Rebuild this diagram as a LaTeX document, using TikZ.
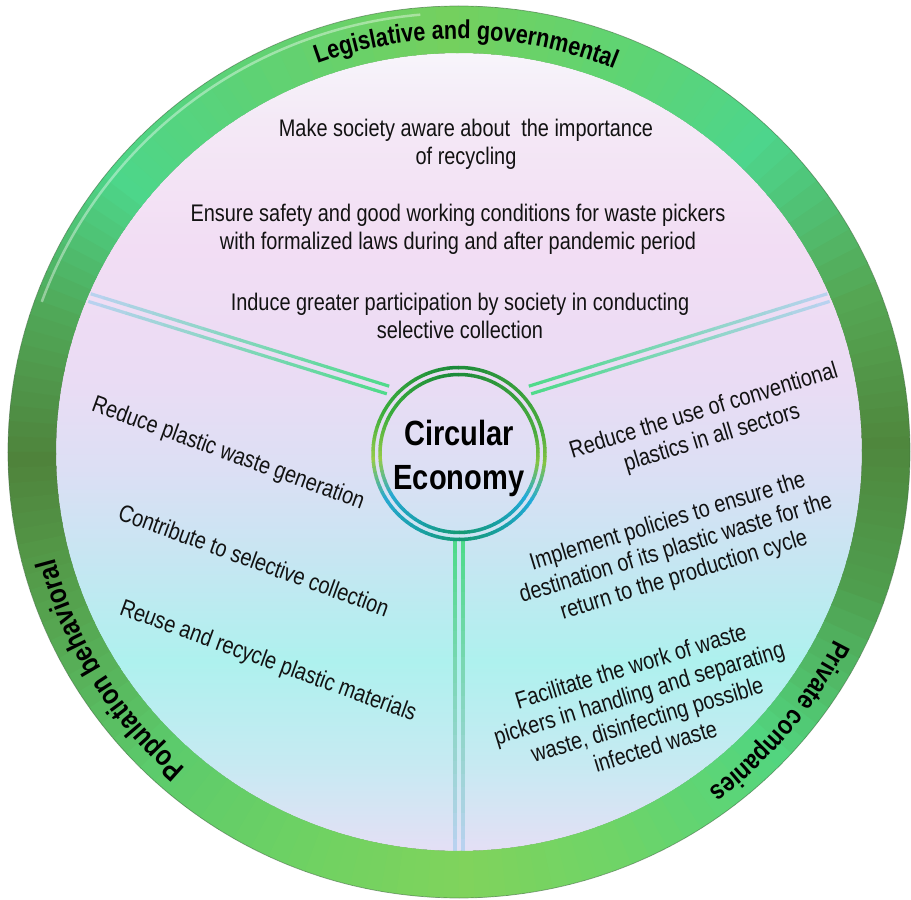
\documentclass[tikz,border=0pt]{standalone}
\usepackage{fontspec}
\setmainfont{Liberation Sans}[FakeStretch=0.83]
\usetikzlibrary{calc,decorations.text}

% outer ring, going round counter-clockwise from the right
\definecolor{rgA}{HTML}{4F873D}
\definecolor{rgB}{HTML}{55A653}
\definecolor{rgC}{HTML}{4DD58C}
\definecolor{rgD}{HTML}{5ED474}
\definecolor{rgE}{HTML}{74D05E}
\definecolor{rgF}{HTML}{5CD277}
\definecolor{rgG}{HTML}{4DD68A}
\definecolor{rgH}{HTML}{50A858}
\definecolor{rgI}{HTML}{4F833B}
\definecolor{rgJ}{HTML}{55A24E}
\definecolor{rgK}{HTML}{5CCB6C}
\definecolor{rgL}{HTML}{70D262}
\definecolor{rgM}{HTML}{80D35C}
\definecolor{rgN}{HTML}{6FD467}
\definecolor{rgO}{HTML}{52D57F}
\definecolor{rgP}{HTML}{4F9E4E}
% inner ring round the centre
\definecolor{crA}{HTML}{159A72}
\definecolor{crB}{HTML}{18A0A8}
\definecolor{crC}{HTML}{22AAD8}
\definecolor{crD}{HTML}{84C443}
\definecolor{crE}{HTML}{48AA3E}
\definecolor{crF}{HTML}{1B8A3A}
\definecolor{crG}{HTML}{3CAE3C}
\definecolor{crH}{HTML}{96CC48}
\definecolor{crI}{HTML}{28A8D0}
% disc background
\definecolor{dkA}{HTML}{E4DFF5}
\definecolor{dkB}{HTML}{C6EAF2}
\definecolor{dkC}{HTML}{AEF1EE}
\definecolor{dkD}{HTML}{C6E6F2}
\definecolor{dkE}{HTML}{DCDFF4}
\definecolor{dkF}{HTML}{EADCF4}
\definecolor{dkG}{HTML}{F2DDF4}
\definecolor{dkH}{HTML}{F4E9F6}
\definecolor{dkI}{HTML}{F7F5FB}
\definecolor{spokegreen}{HTML}{50DA8B}
\definecolor{spokeblue}{HTML}{B8D2EF}
\definecolor{inktext}{HTML}{121212}
\definecolor{ringedge}{HTML}{3E6B3E}

\pgfdeclareverticalshading{discfill}{100bp}{color(0bp)=(dkA); color(25bp)=(dkA);
  color(30.6bp)=(dkB); color(36.9bp)=(dkC); color(43.2bp)=(dkD); color(48.9bp)=(dkE);
  color(54.5bp)=(dkF); color(62.7bp)=(dkG); color(70.8bp)=(dkH); color(75bp)=(dkI);
  color(100bp)=(dkI)}

\tikzset{
  pointtext/.style={font=\fontsize{24}{28}\selectfont, text=inktext, align=center, inner sep=0pt},
  spokeline/.style={line width=3.2pt},
  hubline/.style={line width=3.5pt},
}

\begin{document}
\begin{tikzpicture}[x=1pt, y=1pt]
  \fill[white] (-459,-448) rectangle (452,452);
  \useasboundingbox (-459,-448) rectangle (452,452);

  % Disc
  \fill[shading=discfill] (0,0) ellipse [x radius=403, y radius=399];

  % Dividing spokes
  \foreach \x/\y/\ang in {-71/62/162.8, 71/62/17.2, 0/-88/-90}{
    \begin{scope}[shift={(\x,\y)}, rotate=\ang]
      \foreach \i in {0,...,23}{
        \pgfmathtruncatemacro\m{100*\i/23}
        \draw[spokeline, draw=spokeblue!\m!spokegreen] (13*\i,-4) -- (13*\i+13.5,-4);
        \draw[spokeline, draw=spokeblue!\m!spokegreen] (13*\i,4) -- (13*\i+13.5,4);
      }
    \end{scope}
  }

  % Outer ring
  \foreach \a/\b/\ca/\cb in {0/20/rgA/rgB, 20/45/rgB/rgC, 45/65/rgC/rgD, 65/90/rgD/rgE,
      90/120/rgE/rgF, 120/140/rgF/rgG, 140/160/rgG/rgH, 160/180/rgH/rgI,
      180/200/rgI/rgJ, 200/225/rgJ/rgK, 225/250/rgK/rgL, 250/270/rgL/rgM,
      270/290/rgM/rgN, 290/315/rgN/rgO, 315/340/rgO/rgP, 340/360/rgP/rgA}{
    \foreach \i in {0,...,9}{
      \pgfmathsetmacro\s{\a+(\b-\a)*\i/10}
      \pgfmathsetmacro\e{\a+(\b-\a)*(\i+1)/10+0.4}
      \pgfmathtruncatemacro\m{100-10*\i}
      \fill[fill=\ca!\m!\cb] (\s:403 and 399) -- (\s:451 and 446)
        arc[start angle=\s, end angle=\e, x radius=451, y radius=446]
        -- (\e:403 and 399)
        arc[start angle=\e, end angle=\s, x radius=403, y radius=399] -- cycle;
    }
  }
  \draw[white, opacity=0.4, line width=2.5pt] (160:444 and 439)
    arc[start angle=160, end angle=95, x radius=444, y radius=439];
  \draw[ringedge, opacity=0.6, line width=0.7pt] (0,0) ellipse [x radius=451, y radius=446];

  % Labels on the ring
  \path[decorate, decoration={text along path, text align=center,
      text={|\bfseries\fontsize{26}{26}\selectfont|Legislative and governmental}}]
    (134:413) arc[start angle=134, end angle=44, radius=413];
  \path[decorate, decoration={text along path, text align=center,
      text={|\bfseries\fontsize{29}{29}\selectfont|Population behavioral}}]
    (252:418) arc[start angle=252, end angle=172, radius=418];
  \path[decorate, decoration={text along path, text align=center,
      text={|\bfseries\fontsize{27}{27}\selectfont|Private companies}}]
    (0:420) arc[start angle=0, end angle=-80, radius=420];

  % Hub
  \begin{scope}[shift={(0,-1.5)}]
    \foreach \a/\b/\ca/\cb in {-90/-60/crA/crB, -60/-35/crB/crC, -35/-8/crC/crD,
        -8/15/crD/crE, 15/90/crE/crF, 90/150/crF/crG, 150/182/crG/crH,
        182/210/crH/crI, 210/240/crI/crB, 240/270/crB/crA}{
      \foreach \i in {0,...,7}{
        \pgfmathsetmacro\s{\a+(\b-\a)*\i/8}
        \pgfmathsetmacro\e{\a+(\b-\a)*(\i+1)/8+0.5}
        \pgfmathtruncatemacro\m{100-100*\i/8}
        \draw[hubline, draw=\ca!\m!\cb] (\s:86) arc[start angle=\s, end angle=\e, radius=86];
        \draw[hubline, draw=\ca!\m!\cb] (\s:79) arc[start angle=\s, end angle=\e, radius=79];
      }
    }
  \end{scope}
  \node[font=\bfseries\fontsize{35}{44}\selectfont, text=black, align=center, inner sep=0pt]
    (ce) at (0,-6) {Circular\\Economy};

  % Legislative and governmental
  \node[pointtext] (aware) at (7,308) {Make society aware about~ the importance\\of recycling};
  \node[pointtext] (safety) at (-1,223) {Ensure safety and good working conditions for waste pickers\\with formalized laws during and after pandemic period};
  \node[pointtext] (induce) at (1,136) {Induce greater participation by society in conducting\\selective collection};

  % Population behavioral
  \node[pointtext, rotate=-20] (reduce) at (-231,-2) {Reduce plastic waste generation};
  \node[pointtext, rotate=-20] (collect) at (-205,-108) {Contribute to selective collection};
  \node[pointtext, rotate=-20] (reuse) at (-191,-210) {Reuse and recycle plastic materials};

  % Private companies
  \node[pointtext, rotate=17] (conv) at (249,27) {Reduce the use of conventional\\plastics in all sectors};
  \node[pointtext, rotate=17] (policy) at (217,-97) {Implement policies to ensure the\\destination of its plastic waste for the\\return to the production cycle};
  \node[pointtext, rotate=17] (pickers) at (184,-254) {Facilitate the work of waste\\pickers in handling and separating\\waste, disinfecting possible\\infected waste};
\end{tikzpicture}
\end{document}
